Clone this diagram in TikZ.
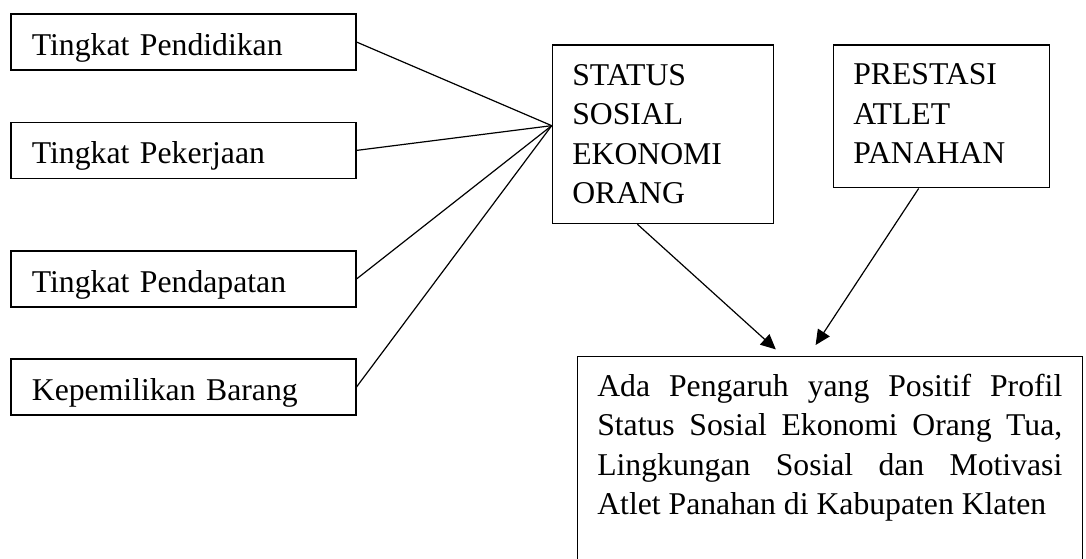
\documentclass[tikz,border=0pt]{standalone}
\usepackage{fontspec}
\setmainfont{Liberation Serif}
\usetikzlibrary{arrows.meta}

\begin{document}
\begin{tikzpicture}[
  x=0.5pt, y=-0.5pt,
  every node/.style = {draw, line width=0.6pt, font=\fontsize{15.85pt}{19.75pt}\selectfont},
  factor/.style = {minimum width=172.5pt, minimum height=28pt, text width=151.5pt,
    inner xsep=10.5pt, inner ysep=0pt, text height=13pt, text depth=0pt, align=left},
  varbox/.style = {anchor=north west, inner xsep=10pt, inner ysep=9.5pt, align=left},
  resultbox/.style = {anchor=north west, text width=232.5pt, inner xsep=10pt, inner ysep=8.7pt,
    text depth=80pt, align=justify, execute at begin node={\tolerance=9999\relax}},
  link/.style = {line width=0.6pt},
  pointer/.style = {link, -{Triangle[length=7.5pt, width=7pt]}}]
  \useasboundingbox (0,0) rectangle (1086,558);
  \clip (0,0) rectangle (1086,558);
  % indikator status sosial ekonomi
  \node[factor] (pendidikan) at (183.4,42) {Tingkat Pendidikan};
  \node[factor] (pekerjaan) at (183.4,150.4) {Tingkat Pekerjaan};
  \node[factor] (pendapatan) at (183.4,279) {Tingkat Pendapatan};
  \node[factor] (barang) at (183.4,387) {Kepemilikan Barang};
  % variabel
  \node[varbox, minimum width=110.65pt, minimum height=89.35pt, text width=90.65pt]
    (status) at (551.7,44.3) {STATUS \\ SOSIAL \\ EKONOMI \\ ORANG};
  \node[varbox, minimum width=108.15pt, minimum height=71.35pt, text width=88.15pt, text depth=42pt]
    (prestasi) at (832.7,44.3) {PRESTASI \\ ATLET \\ PANAHAN};
  \node[resultbox] (hasil) at (576.7,356)
    {Ada Pengaruh yang Positif Profil\linebreak Status Sosial Ekonomi Orang Tua,\linebreak
     Lingkungan Sosial dan Motivasi\linebreak Atlet Panahan di Kabupaten Klaten};
  \coordinate (hub) at ([yshift=4.3pt]status.west);
  \coordinate (tipA) at ([xshift=-27pt, yshift=3.3pt]hasil.north);
  \coordinate (tipB) at ([xshift=-7.1pt, yshift=5.5pt]hasil.north);
  \foreach \src in {pendidikan, pekerjaan, pendapatan, barang}
    \draw[link] (\src.east) -- (hub);
  \draw[pointer] ([xshift=-12.8pt]status.south) -- (tipA);
  \draw[pointer] ([xshift=-11.4pt]prestasi.south) -- (tipB);
\end{tikzpicture}
\end{document}
